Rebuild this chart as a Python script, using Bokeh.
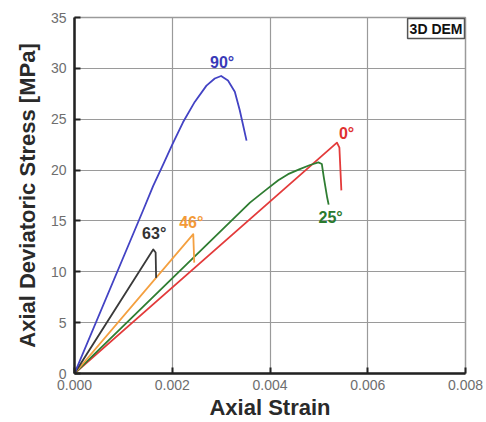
from bokeh.plotting import figure
from bokeh.models import Range1d, FixedTicker, NumeralTickFormatter, Label
from bokeh.embed import file_html
from bokeh.resources import INLINE

# ---- data ----
strain_90 = [0.0, 0.00140, 0.00161, 0.00182, 0.00200, 0.00222, 0.00246, 0.00270, 0.00287,
             0.00300, 0.00314, 0.00328, 0.00338, 0.00345, 0.00352]
stress_90 = [0.0, 16.0, 18.45, 20.6, 22.5, 24.7, 26.7, 28.3, 29.0,
             29.25, 28.8, 27.7, 25.9, 24.4, 22.9]

strain_63 = [0.0, 0.00161, 0.00166, 0.00167]
stress_63 = [0.0, 12.2, 11.9, 9.4]

strain_46 = [0.0, 0.00243, 0.00245]
stress_46 = [0.0, 13.7, 10.9]

strain_25 = [0.0, 0.00359, 0.00393, 0.00417, 0.00437, 0.00461, 0.00482, 0.00499, 0.00506,
             0.00510, 0.00517, 0.00520]
stress_25 = [0.0, 16.8, 18.1, 19.0, 19.6, 20.1, 20.5, 20.75, 20.6,
             19.3, 17.3, 16.6]

strain_0 = [0.0, 0.00537, 0.00542, 0.00546]
stress_0 = [0.0, 22.7, 22.2, 18.0]

x_ticks = [0.0, 0.002, 0.004, 0.006, 0.008]
y_ticks = [0, 5, 10, 15, 20, 25, 30, 35]

FONT = "Liberation Sans"

p = figure(width=486, height=422, output_backend="svg", toolbar_location=None,
           x_range=Range1d(0, 0.008), y_range=Range1d(0, 35),
           min_border_left=74, min_border_right=21, min_border_top=17, min_border_bottom=49)
p.background_fill_color = "white"
p.border_fill_color = "white"
p.outline_line_color = "#9a9a9a"
p.outline_line_width = 1.5

p.xgrid.ticker = FixedTicker(ticks=x_ticks)
p.ygrid.ticker = FixedTicker(ticks=y_ticks)
for g in (p.xgrid, p.ygrid):
    g.grid_line_color = "#9a9a9a"
    g.grid_line_width = 1.2

p.xaxis.ticker = FixedTicker(ticks=x_ticks)
p.yaxis.ticker = FixedTicker(ticks=y_ticks)
p.xaxis.formatter = NumeralTickFormatter(format="0.000")
for ax in (p.xaxis, p.yaxis):
    ax.axis_line_color = "#222222"
    ax.axis_line_width = 2.5
    ax.major_tick_line_color = "#222222"
    ax.major_tick_line_width = 2
    ax.major_tick_in = 6
    ax.major_tick_out = 0
    ax.minor_tick_line_color = None
    ax.major_label_text_font = FONT
    ax.major_label_text_font_size = "14px"
    ax.major_label_text_color = "#6e6e6e"
    ax.axis_label_text_font = FONT
    ax.axis_label_text_font_size = "22px"
    ax.axis_label_text_font_style = "bold"
    ax.axis_label_text_color = "#2a2a2a"
p.xaxis.axis_label = "Axial Strain"
p.yaxis.axis_label = "Axial Deviatoric Stress [MPa]"
p.xaxis.major_label_standoff = 6
p.yaxis.major_label_standoff = 8
p.xaxis.axis_label_standoff = 2
p.yaxis.axis_label_standoff = 8

series = [
    (strain_0, stress_0, "#e33b3b"),
    (strain_25, stress_25, "#2f7d32"),
    (strain_46, stress_46, "#f4a040"),
    (strain_63, stress_63, "#3a3a3a"),
    (strain_90, stress_90, "#4343c4"),
]
for xs, ys, c in series:
    p.line(xs, ys, line_color=c, line_width=1.8, line_join="round")

def peak(xs, ys):
    i = max(range(len(ys)), key=lambda k: ys[k])
    return xs[i], ys[i]

def add_label(x, y, text, color, align, baseline, dx, dy):
    p.add_layout(Label(x=x, y=y, text=text, text_color=color, text_font=FONT,
                       text_font_size="16px", text_font_style="bold",
                       text_align=align, text_baseline=baseline,
                       x_offset=dx, y_offset=dy))

x90, y90 = peak(strain_90, stress_90)
add_label(x90, y90, "90°", "#3a3ab8", "center", "bottom", 1, 5)
x0, y0 = peak(strain_0, stress_0)
add_label(x0, y0, "0°", "#e03030", "left", "bottom", 2, 1)
add_label(strain_25[-1], stress_25[-1], "25°", "#2a7a2e", "center", "top", 2, -4)
x63, y63 = peak(strain_63, stress_63)
add_label(x63, y63, "63°", "#333333", "center", "bottom", 1, 7)
x46, y46 = peak(strain_46, stress_46)
add_label(x46, y46, "46°", "#f39a38", "center", "bottom", -2, 3)

p.add_layout(Label(x=0.008, y=35, text="3D DEM", text_color="#111111", text_font=FONT,
                   text_font_size="14px", text_font_style="bold",
                   text_align="right", text_baseline="top", x_offset=-1, y_offset=-1,
                   border_line_color="#555555", border_line_width=1.5,
                   background_fill_color="white", padding=2))

open("out.html", "w").write(file_html(p, INLINE))
